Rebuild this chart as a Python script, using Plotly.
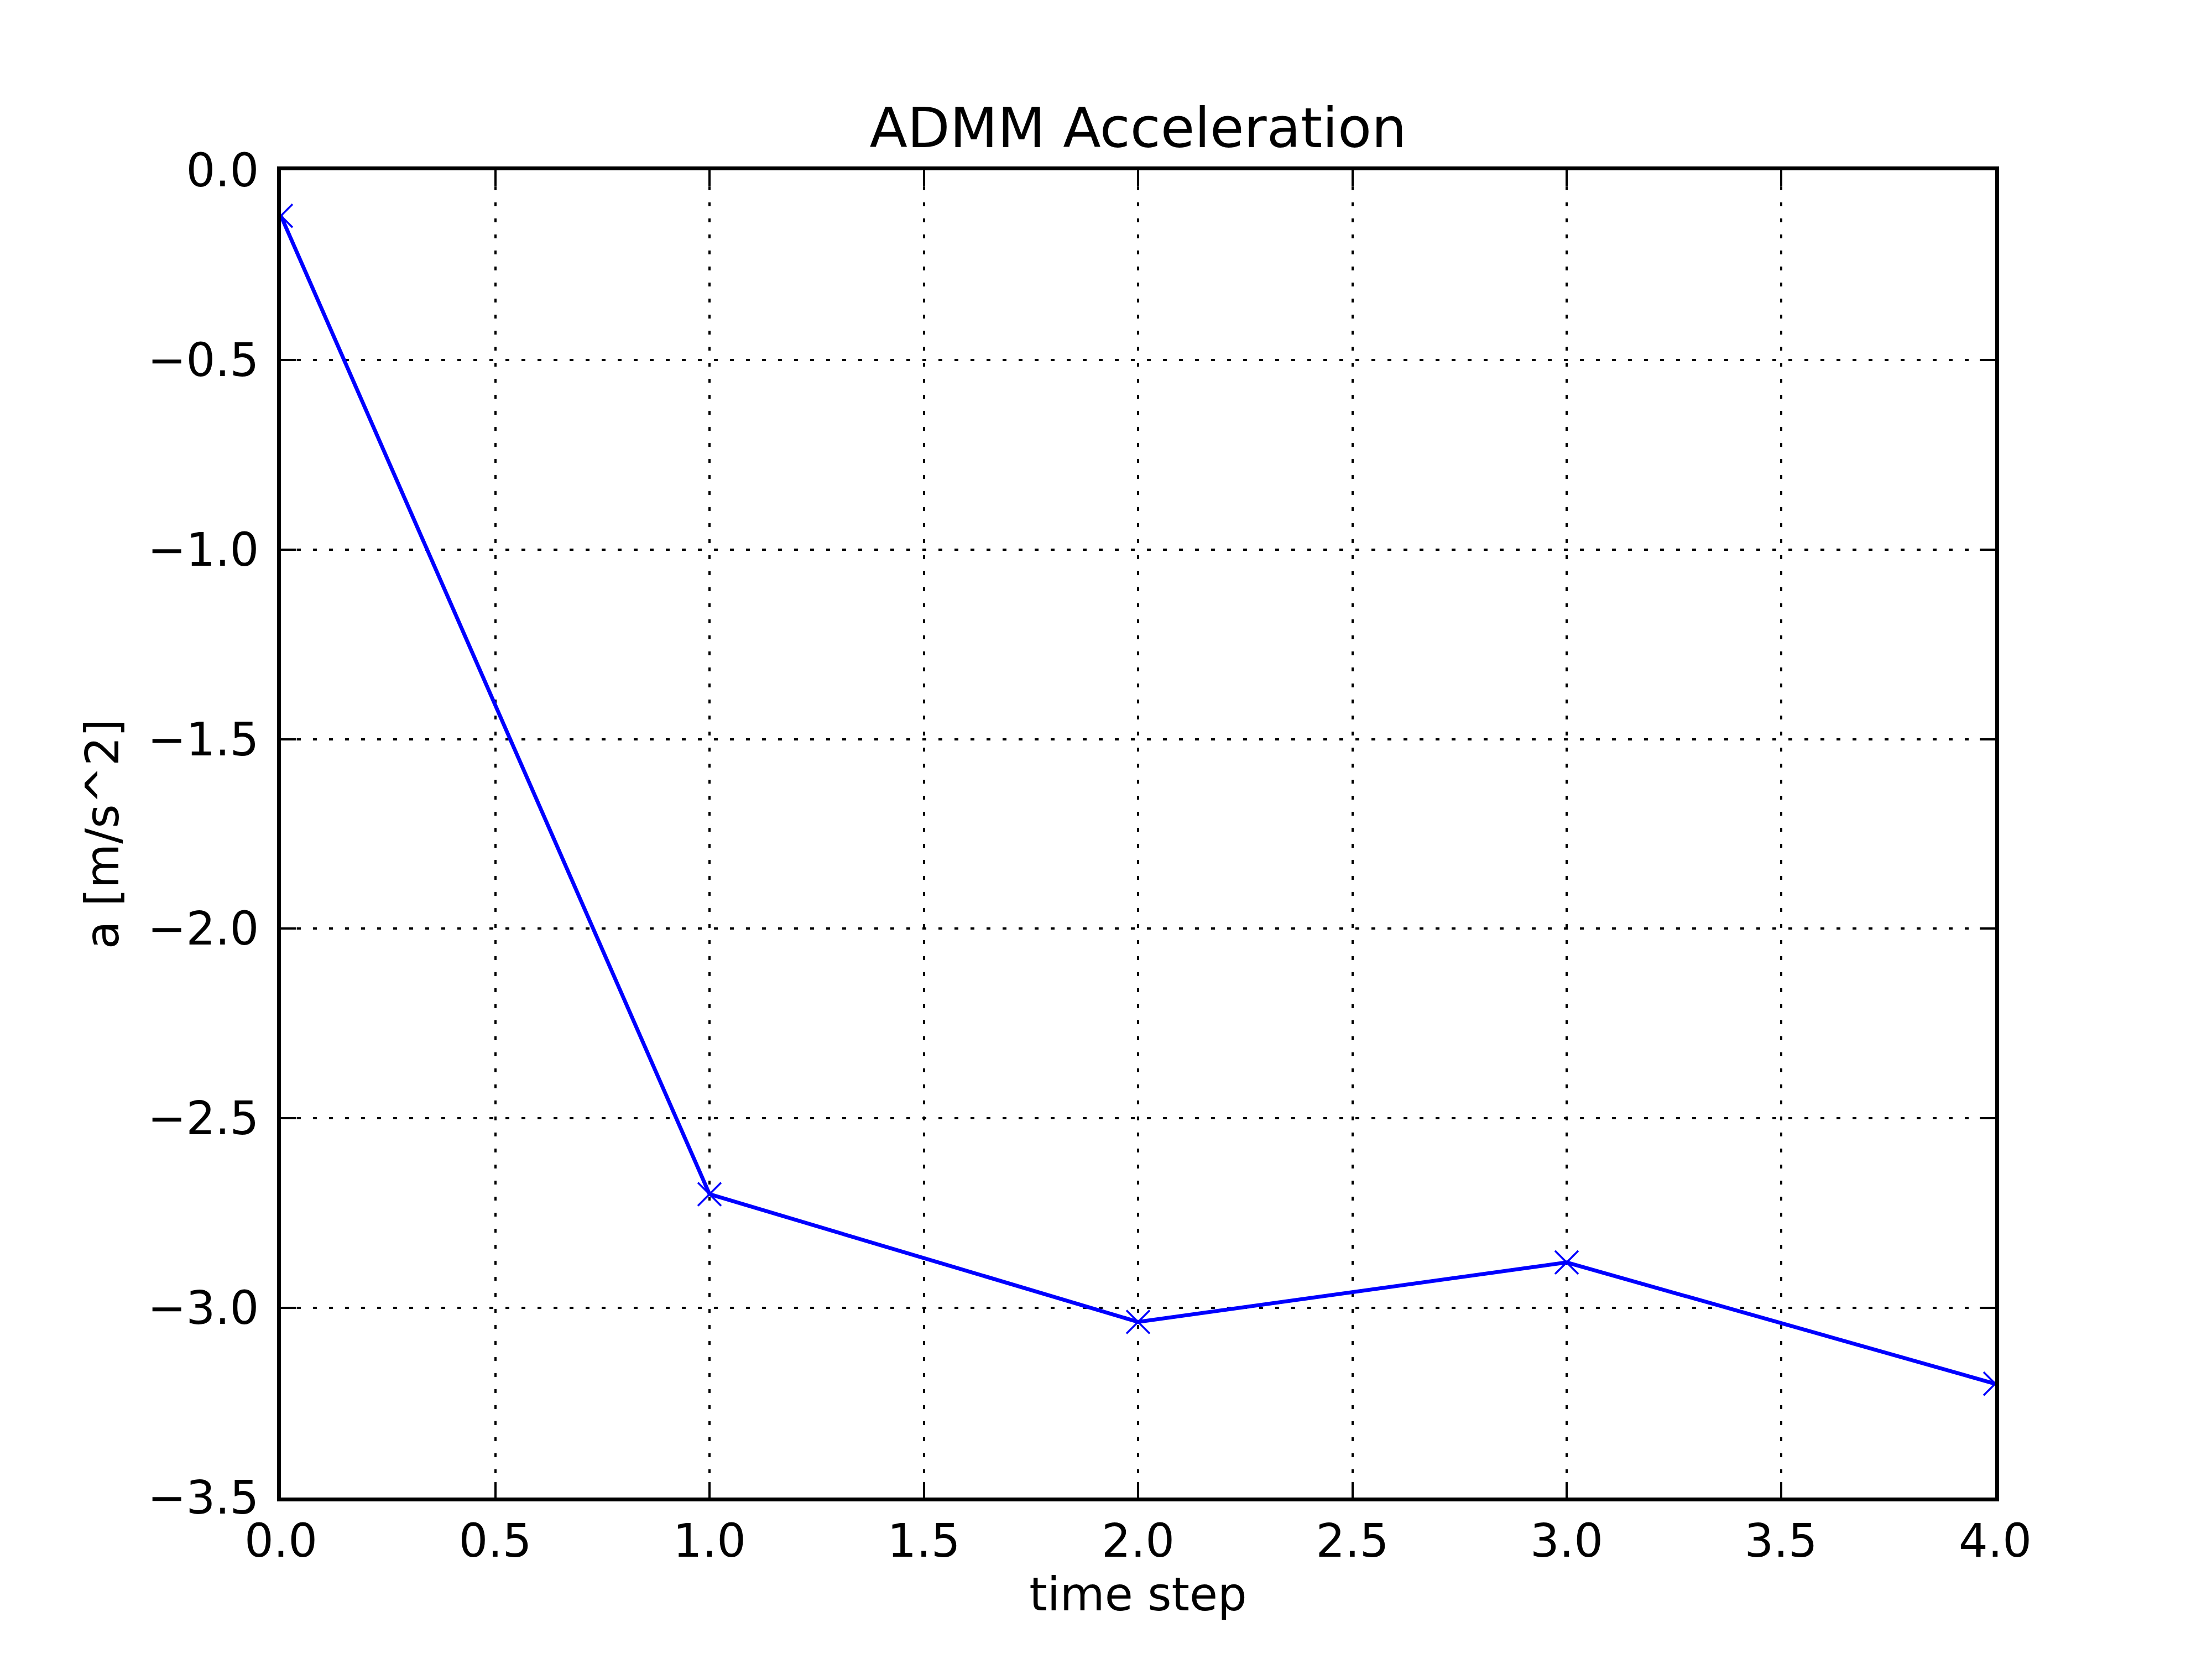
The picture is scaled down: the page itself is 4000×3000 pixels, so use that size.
import plotly.graph_objects as go

# values
time_step = [0, 1, 2, 3, 4]
accel = [-0.12, -2.70, -3.037, -2.88, -3.20]

x_ticks = [0.0, 0.5, 1.0, 1.5, 2.0, 2.5, 3.0, 3.5, 4.0]
y_ticks = [0.0, -0.5, -1.0, -1.5, -2.0, -2.5, -3.0, -3.5]

FONT = "DejaVu Sans"

fig = go.Figure()
fig.add_trace(go.Scatter(
    x=time_step,
    y=accel,
    mode="lines+markers",
    line=dict(color="#0000ff", width=7),
    marker=dict(symbol="x-thin", size=42, color="#0000ff",
                line=dict(color="#0000ff", width=3.5)),
    cliponaxis=True,
    showlegend=False,
))

# matplotlib classic look: inside ticks on all four sides, sparse dotted grid
axis_common = dict(
    showline=True, linecolor="black", linewidth=7, mirror="allticks",
    ticks="inside", ticklen=28, tickwidth=3.5, tickcolor="black",
    showgrid=True, gridcolor="black", gridwidth=3.5, griddash="7px,22px",
    zeroline=False, tickformat=".1f",
    tickfont=dict(family=FONT, size=83, color="black"),
)

fig.update_xaxes(
    range=[0, 4], tickvals=x_ticks, ticklabelstandoff=0,
    title=dict(text="time step", font=dict(family=FONT, size=83, color="black"),
               standoff=22),
    **axis_common,
)
fig.update_yaxes(
    range=[-3.5, 0], tickvals=y_ticks, ticklabelstandoff=16,
    title=dict(text="a [m/s^2]", font=dict(family=FONT, size=83, color="black"),
               standoff=27),
    **axis_common,
)

fig.update_layout(
    width=4000, height=3000,
    margin=dict(l=500, r=400, t=300, b=300, autoexpand=False),
    paper_bgcolor="white", plot_bgcolor="white",
    title=dict(text="ADMM Acceleration", x=0.5, xref="paper", xanchor="center",
               y=1 - 258 / 3000, yanchor="bottom", yref="container",
               font=dict(family=FONT, size=100, color="black")),
    font=dict(family=FONT, color="black"),
)

fig.write_html("out.html")
